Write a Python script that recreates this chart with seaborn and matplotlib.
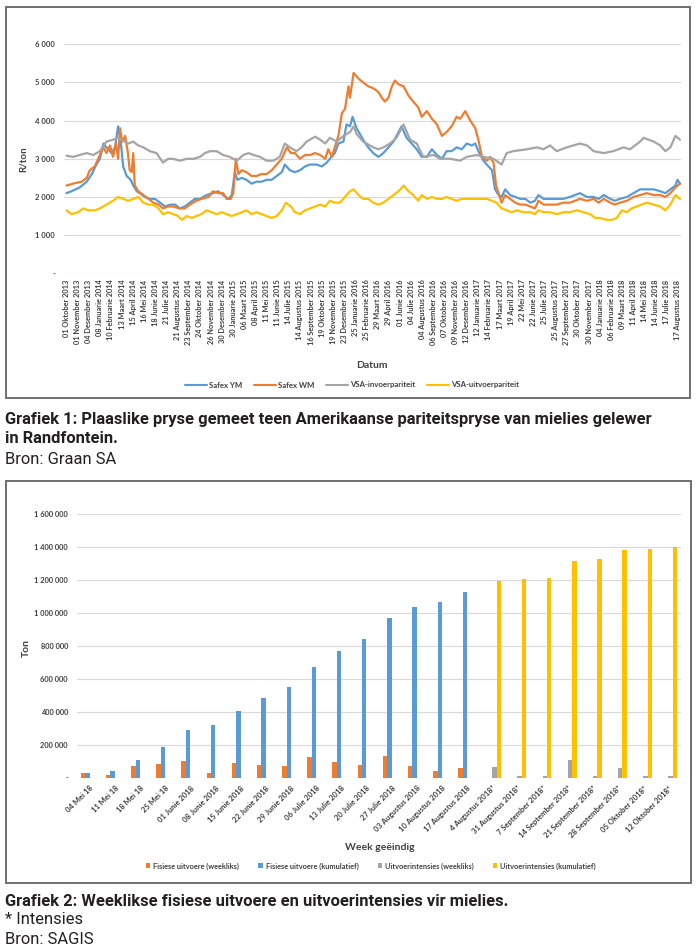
import numpy as np
import pandas as pd
import matplotlib
matplotlib.use('Agg')
import matplotlib.pyplot as plt
import seaborn as sns
from matplotlib.lines import Line2D
from matplotlib.patches import Patch, Rectangle
from matplotlib import font_manager

# ---------------- Grafiek 1 data (trading-day index, R/ton) ----------------
ym_day = [0, 10, 26, 40, 50, 59, 66, 73, 79, 89, 96, 102, 107, 112, 119, 127, 132, 139, 145, 155,
          165, 175, 185, 195, 205, 215, 224, 234, 244, 254, 264, 277, 290, 300, 310, 320, 327, 333,
          338, 347, 356, 366, 376, 386, 396, 406, 416, 426, 432, 442, 452, 462, 472, 482, 495, 505,
          515, 521, 531, 538, 548, 554, 561, 566, 574, 587, 597, 607, 617, 627, 637, 647, 657, 663,
          673, 683, 693, 703, 713, 723, 733, 743, 752, 762, 772, 782, 792, 802, 809, 815, 825, 835,
          842, 848, 855, 861, 868, 878, 888, 898, 908, 918, 927, 934, 944, 957, 970, 983, 996, 1016,
          1030, 1043, 1053, 1063, 1076, 1085, 1095, 1109, 1122, 1135, 1148, 1162, 1175, 1185, 1195,
          1205, 1209, 1214]
ym_val = [2100, 2150, 2250, 2400, 2600, 2850, 3000, 3400, 3300, 3150, 3300, 3850, 3500, 2800, 2550,
          2450, 2300, 2150, 2100, 2000, 1950, 1950, 1850, 1750, 1800, 1800, 1700, 1750, 1850, 1950,
          1950, 2050, 2100, 2150, 2050, 1950, 2050, 2650, 2450, 2500, 2450, 2350, 2400, 2400, 2450,
          2450, 2550, 2650, 2850, 2700, 2650, 2700, 2800, 2850, 2850, 2800, 2900, 3000, 3150, 3400,
          3450, 3900, 3850, 4100, 3800, 3500, 3300, 3150, 3050, 3150, 3300, 3450, 3700, 3850, 3550,
          3400, 3250, 3050, 3050, 3250, 3100, 3000, 3200, 3200, 3300, 3250, 3400, 3350, 3400, 3200,
          2950, 2800, 2700, 2200, 2050, 2000, 2200, 2050, 2000, 1950, 1950, 1850, 1900, 2050, 1950,
          1950, 1950, 1950, 2000, 2100, 2000, 2000, 1950, 2050, 1950, 1900, 1950, 2000, 2100, 2200,
          2200, 2200, 2150, 2100, 2200, 2300, 2450, 2350]

wm_day = [0, 13, 30, 40, 46, 56, 66, 73, 79, 86, 92, 98, 102, 106, 110, 116, 121, 125, 129, 132,
          135, 142, 152, 162, 172, 182, 191, 201, 211, 224, 234, 244, 257, 267, 281, 290, 300, 310,
          317, 325, 330, 335, 340, 347, 356, 366, 376, 386, 396, 406, 416, 426, 436, 444, 452, 462,
          472, 482, 492, 502, 512, 518, 525, 531, 538, 545, 551, 558, 561, 568, 578, 587, 597, 607,
          617, 624, 630, 637, 644, 650, 657, 667, 677, 686, 696, 703, 713, 723, 733, 743, 752, 762,
          772, 779, 789, 799, 809, 815, 822, 832, 838, 845, 850, 855, 861, 868, 878, 888, 898, 908,
          918, 927, 934, 944, 957, 970, 983, 996, 1016, 1030, 1043, 1053, 1063, 1076, 1085, 1095,
          1109, 1122, 1135, 1148, 1162, 1175, 1185, 1195, 1205, 1214]
wm_val = [2300, 2350, 2400, 2500, 2700, 2800, 3100, 3300, 3150, 3350, 3050, 3400, 3000, 3800, 3450,
          3600, 3200, 2700, 2650, 3150, 2300, 2150, 2050, 1950, 1850, 1800, 1700, 1750, 1750, 1700,
          1700, 1800, 1900, 1950, 2000, 2150, 2100, 2100, 1950, 1950, 2100, 3000, 2600, 2700, 2650,
          2550, 2550, 2600, 2600, 2700, 2850, 3000, 3300, 3150, 3150, 3000, 3100, 3100, 3150, 3100,
          3000, 3250, 3050, 3300, 3600, 4200, 4300, 4900, 4600, 5250, 5100, 5000, 4900, 4850, 4750,
          4600, 4500, 4600, 4900, 5050, 4950, 4900, 4650, 4500, 4350, 4100, 4250, 4050, 3900, 3600,
          3700, 3850, 4100, 4050, 4250, 4000, 3800, 3500, 3050, 2950, 3050, 2900, 2300, 2100, 1850,
          2050, 1950, 1850, 1800, 1800, 1750, 1700, 1900, 1800, 1800, 1800, 1850, 1850, 1950, 1900,
          1950, 1850, 1950, 1850, 1800, 1850, 1900, 2000, 2050, 2100, 2050, 2050, 2000, 2100, 2250,
          2350]

inv_day = [0, 13, 26, 40, 53, 66, 79, 92, 102, 112, 122, 132, 142, 152, 165, 178, 191, 201, 211,
           224, 238, 251, 264, 274, 284, 297, 310, 323, 337, 350, 360, 370, 383, 396, 409, 422, 432,
           442, 455, 465, 475, 492, 502, 512, 521, 535, 548, 561, 568, 574, 587, 607, 617, 627, 640,
           653, 667, 680, 693, 706, 726, 739, 759, 779, 792, 812, 825, 845, 861, 871, 884, 911, 931,
           944, 957, 970, 990, 1016, 1030, 1043, 1063, 1082, 1102, 1115, 1135, 1142, 1162, 1175,
           1185, 1195, 1205, 1214]
inv_val = [3080, 3050, 3100, 3150, 3100, 3200, 3450, 3500, 3550, 3480, 3400, 3450, 3350, 3300, 3200,
           3150, 2900, 3000, 3000, 2950, 3000, 3000, 3050, 3150, 3200, 3200, 3100, 3050, 2950, 3100,
           3150, 3100, 3050, 2950, 2950, 3050, 3400, 3300, 3200, 3300, 3450, 3580, 3500, 3400, 3550,
           3450, 3600, 3700, 3850, 3650, 3450, 3300, 3250, 3300, 3400, 3550, 3900, 3500, 3400, 3050,
           3100, 3000, 3000, 2950, 3050, 3100, 3050, 3000, 2850, 3150, 3200, 3250, 3300, 3250, 3350,
           3200, 3300, 3400, 3350, 3200, 3150, 3200, 3300, 3250, 3450, 3550, 3450, 3350, 3200, 3300,
           3600, 3500]

uit_day = [0, 10, 23, 33, 43, 56, 66, 79, 92, 102, 112, 122, 132, 142, 152, 162, 172, 182, 191, 201,
           211, 221, 228, 238, 248, 257, 267, 277, 287, 297, 307, 317, 327, 337, 347, 356, 366, 376,
           386, 396, 406, 416, 426, 434, 444, 452, 462, 472, 482, 492, 502, 512, 521, 531, 541, 551,
           561, 568, 578, 587, 597, 607, 617, 627, 637, 647, 657, 667, 677, 686, 696, 703, 713, 723,
           733, 743, 752, 762, 772, 782, 792, 802, 812, 822, 832, 842, 851, 861, 871, 881, 891, 904,
           918, 927, 934, 944, 957, 970, 983, 996, 1010, 1023, 1036, 1046, 1056, 1069, 1079, 1089,
           1099, 1109, 1118, 1128, 1138, 1148, 1162, 1175, 1185, 1195, 1205, 1214]
uit_val = [1650, 1550, 1600, 1700, 1650, 1650, 1700, 1800, 1900, 2000, 1950, 1900, 1950, 2000, 1850,
           1800, 1800, 1700, 1550, 1600, 1550, 1500, 1400, 1500, 1450, 1500, 1550, 1650, 1600, 1550,
           1600, 1550, 1500, 1550, 1600, 1650, 1550, 1600, 1550, 1500, 1450, 1500, 1650, 1850, 1750,
           1600, 1550, 1650, 1700, 1750, 1800, 1750, 1900, 1850, 1850, 2000, 2150, 2200, 2050, 1950,
           1950, 1850, 1800, 1850, 1950, 2050, 2150, 2300, 2150, 2050, 1900, 2050, 1950, 2000, 1950,
           1950, 2000, 1950, 1900, 1950, 1950, 1950, 1950, 1950, 1950, 1900, 1850, 1700, 1650, 1600,
           1650, 1600, 1600, 1550, 1650, 1600, 1600, 1550, 1600, 1600, 1650, 1600, 1550, 1450, 1450,
           1400, 1400, 1450, 1650, 1600, 1700, 1750, 1800, 1850, 1800, 1750, 1650, 1800, 2050, 1950]

series1_names = ['Safex YM', 'Safex WM', 'VSA-invoerpariteit', 'VSA-uitvoerpariteit']
series1_colors = ['#5B9BD5', '#ED7D31', '#A5A5A5', '#FFC000']

datum_labels = ['01 Oktober 2013', '01 November 2013', '04 Desember 2013', '08 Januarie 2014',
                '10 Februarie 2014', '13 Maart 2014', '15 April 2014', '16 Mei 2014', '18 Junie 2014',
                '21 Julie 2014', '21 Augustus 2014', '23 September 2014', '24 Oktober 2014',
                '26 November 2014', '30 Desember 2014', '30 Januarie 2015', '06 Maart 2015',
                '08 April 2015', '11 Mei 2015', '11 Junie 2015', '14 Julie 2015', '14 Augustus 2015',
                '16 September 2015', '19 Oktober 2015', '19 November 2015', '23 Desember 2015',
                '25 Januarie 2016', '25 Februarie 2016', '29 Maart 2016', '29 April 2016',
                '01 Junie 2016', '04 Julie 2016', '04 Augustus 2016', '06 September 2016',
                '07 Oktober 2016', '09 November 2016', '12 Desember 2016', '12 Januarie 2017',
                '14 Februarie 2017', '17 Maart 2017', '19 April 2017', '22 Mei 2017', '22 Junie 2017',
                '25 Julie 2017', '25 Augustus 2017', '27 September 2017', '30 Oktober 2017',
                '30 November 2017', '04 Januarie 2018', '06 Februarie 2018', '09 Maart 2018',
                '11 April 2018', '14 Mei 2018', '14 Junie 2018', '17 Julie 2018', '17 Augustus 2018']
days_per_label = 22
y1_ticks = [0, 1000, 2000, 3000, 4000, 5000, 6000]
y1_labels = ['-', '1 000', '2 000', '3 000', '4 000', '5 000', '6 000']

# ---------------- Grafiek 2 data (ton) ----------------
weeks = ['04 Mei 18', '11 Mei 18', '18 Mei 18', '25 Mei 18', '01 Junie 2018', '08 Junie 2018',
         '15 Junie 2018', '22 Junie 2018', '29 Junie 2018', '06 Julie 2018', '13 Julie 2018',
         '20 Julie 2018', '27 Julie 2018', '03 Augustus 2018', '10 Augustus 2018', '17 Augustus 2018',
         '4 Augustus 2018*', '31 Augustus 2018*', '7 September 2018*', '14 September 2018*',
         '21 September 2018*', '28 September 2018*', '05 Oktober 2018*', '12 Oktober 2018*']
fis_week = [26000, 16000, 67000, 82000, 103000, 30000, 87000, 76000, 68000, 123000, 97000, 76000,
            129000, 67000, 38000, 58000] + [np.nan] * 8
fis_kum = [26000, 40000, 105000, 188000, 288000, 317000, 404000, 480000, 547000, 668000, 765000,
           840000, 970000, 1032000, 1065000, 1125000] + [np.nan] * 8
int_week = [np.nan] * 16 + [64000, 10000, 9000, 105000, 8000, 60000, 7000, 7000]
int_kum = [np.nan] * 16 + [1190000, 1202000, 1210000, 1315000, 1323000, 1380000, 1388000, 1398000]

series2_names = ['Fisiese uitvoere (weekliks)', 'Fisiese uitvoere (kumulatief)',
                 'Uitvoerintensies (weekliks)', 'Uitvoerintensies (kumulatief)']
series2_colors = ['#ED7D31', '#5B9BD5', '#A5A5A5', '#FFC000']
y2_ticks = [0, 200000, 400000, 600000, 800000, 1000000, 1200000, 1400000, 1600000]
y2_labels = ['-', '200 000', '400 000', '600 000', '800 000', '1 000 000', '1 200 000',
             '1 400 000', '1 600 000']

# ---------------- styling ----------------
sns.set_theme(style='white')
plt.rcParams['font.family'] = ['Lato', 'DejaVu Sans']
names = {f.name for f in font_manager.fontManager.ttflist}
cap_font = 'Liberation Sans Narrow' if 'Liberation Sans Narrow' in names else 'Roboto'
cap_size = 11.0 if cap_font == 'Liberation Sans Narrow' else 11.9
TXT = '#404040'
CAP = '#231f20'
W, H = 700, 948

fig = plt.figure(figsize=(W / 100, H / 100), dpi=100)
fig.patch.set_facecolor('white')


def fx(px):
    return px / W


def fy(py):
    return 1 - py / H


for (x0, y0, x1, y1) in [(6, 7, 690, 398), (6, 481, 691, 883)]:
    fig.add_artist(Rectangle((fx(x0), fy(y1)), (x1 - x0) / W, (y1 - y0) / H,
                             transform=fig.transFigure, fill=False, ec='#707070', lw=1.4))

# ---------------- Grafiek 1 ----------------
ax1 = fig.add_axes([fx(64), fy(273.3), 617 / W, (273.3 - 44.3) / H])
frames = []
for nm, d, v in zip(series1_names, [ym_day, wm_day, inv_day, uit_day],
                    [ym_val, wm_val, inv_val, uit_val]):
    frames.append(pd.DataFrame({'dag': d, 'R/ton': v, 'reeks': nm}))
df1 = pd.concat(frames, ignore_index=True)
sns.lineplot(data=df1, x='dag', y='R/ton', hue='reeks', hue_order=series1_names,
             palette=series1_colors, estimator=None, lw=1.6, ax=ax1, legend=False)
ax1.set_xlim(-5, 1216)
ax1.set_ylim(0, 6000)
ax1.set_yticks(y1_ticks)
ax1.set_yticklabels(y1_labels, fontsize=5.5, fontweight='bold', color=TXT)
ax1.set_xticks([days_per_label * k for k in range(len(datum_labels))])
ax1.set_xticklabels(datum_labels, rotation=90, fontsize=5.3, fontweight='bold', color=TXT)
ax1.tick_params(axis='x', length=0, pad=4.5)
ax1.tick_params(axis='y', length=0, pad=6.5)
ax1.grid(axis='y', color='#d9d9d9', lw=0.8)
ax1.grid(axis='x', visible=False)
ax1.set_axisbelow(True)
for s in ax1.spines.values():
    s.set_visible(False)
ax1.set_xlabel('')
ax1.set_ylabel('')
fig.text(fx(23), fy(159), 'R/ton', rotation=90, ha='center', va='center', fontsize=7,
         fontweight='bold', color=TXT)
fig.text(fx(372), fy(365), 'Datum', ha='center', va='center', fontsize=7.5,
         fontweight='bold', color=TXT)
h1 = [Line2D([], [], color=c, lw=1.5) for c in series1_colors]
fig.legend(h1, series1_names, loc='center', bbox_to_anchor=(fx(352), fy(385)), ncol=4,
           frameon=False, handlelength=2.8, handletextpad=0.3, columnspacing=1.5,
           prop={'size': 5.6, 'weight': 'bold'}, labelcolor=TXT)

# captions 1
fig.text(fx(5), fy(420), 'Grafiek 1: Plaaslike pryse gemeet teen Amerikaanse pariteitspryse van mielies gelewer',
         family=cap_font, fontsize=cap_size, fontweight='bold', ha='left', va='center', color=CAP)
fig.text(fx(5), fy(439), 'in Randfontein.', family=cap_font, fontsize=cap_size,
         fontweight='bold', ha='left', va='center', color=CAP)
fig.text(fx(5), fy(459), 'Bron: Graan SA', family=cap_font, fontsize=cap_size,
         ha='left', va='center', color=CAP)

# ---------------- Grafiek 2 ----------------
ax2 = fig.add_axes([fx(77), fy(777.5), 604 / W, (777.5 - 513.7) / H])
frames = []
for nm, v in zip(series2_names, [fis_week, fis_kum, int_week, int_kum]):
    frames.append(pd.DataFrame({'week': weeks, 'ton': v, 'reeks': nm}))
df2 = pd.concat(frames, ignore_index=True).dropna()
sns.barplot(data=df2, x='week', y='ton', hue='reeks', order=weeks, hue_order=series2_names,
            palette=series2_colors, width=0.7, errorbar=None, saturation=1, linewidth=0,
            ax=ax2, legend=False)
ax2.set_xlim(-0.5, len(weeks) - 0.5)
ax2.set_ylim(0, 1600000)
ax2.set_yticks(y2_ticks)
ax2.set_yticklabels(y2_labels, fontsize=5.4, fontweight='bold', color=TXT)
ax2.set_xticks(range(len(weeks)))
ax2.set_xticklabels(weeks, rotation=45, ha='right', rotation_mode='anchor', fontsize=5.5,
                    fontweight='bold', color=TXT)
ax2.tick_params(axis='x', length=0, pad=5)
ax2.tick_params(axis='y', length=0, pad=6.5)
ax2.grid(axis='y', color='#d9d9d9', lw=0.8)
ax2.grid(axis='x', visible=False)
ax2.set_axisbelow(True)
for s in ax2.spines.values():
    s.set_visible(False)
ax2.set_xlabel('')
ax2.set_ylabel('')
fig.text(fx(26), fy(648), 'Ton', rotation=90, ha='center', va='center', fontsize=7.5,
         fontweight='bold', color=TXT)
fig.text(fx(380), fy(847), 'Week geëindig', ha='center', va='center', fontsize=7.5,
         fontweight='bold', color=TXT)
h2 = [Patch(facecolor=c, edgecolor='none') for c in series2_colors]
fig.legend(h2, series2_names, loc='center', bbox_to_anchor=(fx(371), fy(866)), ncol=4,
           frameon=False, handlelength=0.6, handleheight=0.6, handletextpad=0.4,
           columnspacing=2.6, prop={'size': 5.3, 'weight': 'bold'}, labelcolor=TXT)

# captions 2
fig.text(fx(5), fy(901), 'Grafiek 2: Weeklikse fisiese uitvoere en uitvoerintensies vir mielies.',
         family=cap_font, fontsize=cap_size, fontweight='bold', ha='left', va='center', color=CAP)
fig.text(fx(5), fy(920), '* Intensies', family=cap_font, fontsize=cap_size,
         ha='left', va='center', color=CAP)
fig.text(fx(5), fy(939), 'Bron: SAGIS', family=cap_font, fontsize=cap_size,
         ha='left', va='center', color=CAP)

fig.savefig('out.png', dpi=100, facecolor='white')
